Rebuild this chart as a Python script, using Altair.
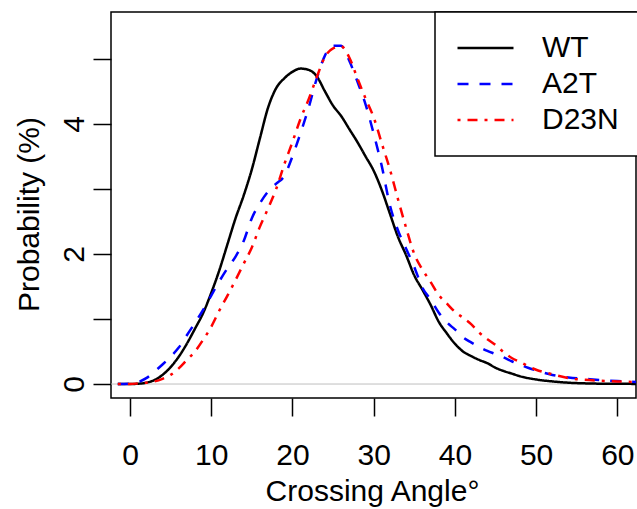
import altair as alt
import pandas as pd

# Crossing angle (degrees) and probability (%) for each series
wt_x = [-1.5, 0, 1, 2, 3, 4, 5, 6, 7, 8, 9, 10, 11, 12, 13, 14, 15, 16, 17, 18, 19, 20,
        21, 22, 23, 24, 25, 26, 27, 28, 29, 30, 31, 32, 33, 34, 35, 36, 37, 38, 39, 40,
        41, 42, 43, 44, 45, 46, 47, 48, 50, 52, 54, 56, 58, 60, 62.5]
wt_y = [0, 0.0, 0.005, 0.02, 0.06, 0.14, 0.26, 0.42, 0.62, 0.85, 1.09, 1.40, 1.75, 2.15,
        2.55, 2.90, 3.30, 3.78, 4.25, 4.55, 4.70, 4.80, 4.85, 4.83, 4.73, 4.50, 4.28, 4.12,
        3.92, 3.72, 3.50, 3.28, 2.98, 2.62, 2.26, 1.98, 1.67, 1.45, 1.22, 0.96, 0.78, 0.62,
        0.50, 0.43, 0.37, 0.32, 0.25, 0.20, 0.16, 0.12, 0.07, 0.04, 0.02, 0.01, 0.005, 0.003, 0.002]

a2t_x = [-1.5, 0, 1, 2, 3, 4, 5, 6, 7, 8, 9, 10, 11, 12, 13, 14, 15, 16, 17, 18, 19, 20,
         21, 22, 23, 24, 25, 26, 27, 28, 29, 30, 31, 32, 33, 34, 35, 36, 37, 38, 39, 40,
         41, 42, 43, 44, 45, 46, 47, 48, 49, 50, 52, 54, 56, 58, 60, 62.5]
a2t_y = [0, 0.005, 0.03, 0.09, 0.19, 0.30, 0.42, 0.56, 0.75, 0.94, 1.14, 1.36, 1.58, 1.78,
         1.96, 2.20, 2.55, 2.78, 2.96, 3.08, 3.20, 3.50, 3.86, 4.25, 4.70, 5.05, 5.20, 5.20,
         4.97, 4.65, 4.30, 3.85, 3.35, 2.75, 2.36, 2.08, 1.80, 1.48, 1.30, 1.10, 0.95, 0.84,
         0.72, 0.64, 0.57, 0.51, 0.46, 0.41, 0.35, 0.30, 0.25, 0.21, 0.14, 0.10, 0.08, 0.06,
         0.045, 0.03]

d23n_x = [-1.5, 0, 1, 2, 3, 4, 5, 6, 7, 8, 9, 10, 11, 12, 13, 14, 15, 16, 17, 18, 19, 20,
          21, 22, 23, 24, 25, 26, 27, 28, 29, 30, 31, 32, 33, 34, 35, 36, 37, 38, 39, 40,
          41, 42, 43, 44, 45, 46, 47, 48, 50, 52, 54, 56, 58, 60, 62.5]
d23n_y = [0, 0.0, 0.01, 0.02, 0.04, 0.08, 0.14, 0.24, 0.37, 0.50, 0.68, 0.88, 1.13, 1.36,
          1.60, 1.85, 2.10, 2.42, 2.70, 3.00, 3.38, 3.72, 4.08, 4.38, 4.72, 5.03, 5.16, 5.19,
          5.02, 4.70, 4.39, 4.10, 3.70, 3.30, 2.84, 2.40, 2.00, 1.76, 1.57, 1.37, 1.24, 1.11,
          1.02, 0.92, 0.79, 0.69, 0.60, 0.49, 0.40, 0.34, 0.22, 0.15, 0.09, 0.065, 0.05,
          0.04, 0.03]

series_names = ["WT", "A2T", "D23N"]
series_colors = ["#000000", "#0000ff", "#ff0000"]
series_dashes = [[1, 0], [11, 11], [3, 7, 10, 7]]

x_ticks = [0, 10, 20, 30, 40, 50, 60]
y_ticks = [0, 1, 2, 3, 4, 5]

rows = []
for name, xs, ys in [("WT", wt_x, wt_y), ("A2T", a2t_x, a2t_y), ("D23N", d23n_x, d23n_y)]:
    for i, (xv, yv) in enumerate(zip(xs, ys)):
        rows.append({"series": name, "angle": xv, "prob": yv, "order": i})
df = pd.DataFrame(rows)

FONT = "Liberation Sans"

x_enc = alt.X("angle:Q", scale=alt.Scale(domain=[-2.34, 62.3], nice=False, zero=False),
              axis=alt.Axis(values=x_ticks, title="Crossing Angle°", labelPadding=24,
                            format="d",
                            titleX=261, titleY=102, titleBaseline="alphabetic",
                            titleAlign="center"))
y_enc = alt.Y("prob:Q", scale=alt.Scale(domain=[-0.215, 5.72], nice=False, zero=False),
              axis=alt.Axis(values=y_ticks, title="Probability (%)", format="d",
                            labelExpr="datum.value % 2 == 0 ? datum.label : ''",
                            labelAngle=-90, labelAlign="center", labelBaseline="bottom",
                            labelPadding=4, titleAngle=-90, titleX=-82, titleY=202,
                            titleAlign="center", titleBaseline="middle"))

zero_line = alt.Chart(pd.DataFrame({"z": [0]})).mark_rule(
    color="#bebebe", strokeWidth=1).encode(y=alt.Y("z:Q"))

lines = alt.Chart(df).mark_line(strokeWidth=2.5, interpolate="monotone", clip=True).encode(
    x=x_enc,
    y=y_enc,
    order="order:Q",
    color=alt.Color("series:N", sort=series_names,
                    scale=alt.Scale(domain=series_names, range=series_colors),
                    legend=alt.Legend(title=None, orient="none", legendX=324, legendY=0,
                                      symbolType="stroke", symbolSize=3136,
                                      symbolStrokeWidth=2.5, labelFontSize=30,
                                      labelFont=FONT, labelOffset=27, padding=21,
                                      clipHeight=30, rowPadding=6,
                                      strokeColor="black", fillColor="white",
                                      labelColor="black")),
    strokeDash=alt.StrokeDash("series:N", sort=series_names,
                              scale=alt.Scale(domain=series_names, range=series_dashes),
                              legend=None),
)

chart = alt.layer(zero_line, lines).properties(
    width=525, height=386,
    autosize=alt.AutoSizeParams(type="none"),
    padding={"left": 111, "top": 12, "right": 1, "bottom": 111},
).configure_view(
    stroke="black", strokeWidth=1.5
).configure_axis(
    grid=False, domain=False, tickColor="black", tickWidth=1.5, tickSize=18,
    labelFont=FONT, labelFontSize=30, labelColor="black",
    titleFont=FONT, titleFontSize=30, titleFontWeight="normal", titleColor="black",
).configure_legend(
    strokeWidth=1.5
)

chart.save("out.html", embed_options={"renderer": "svg", "actions": False})
